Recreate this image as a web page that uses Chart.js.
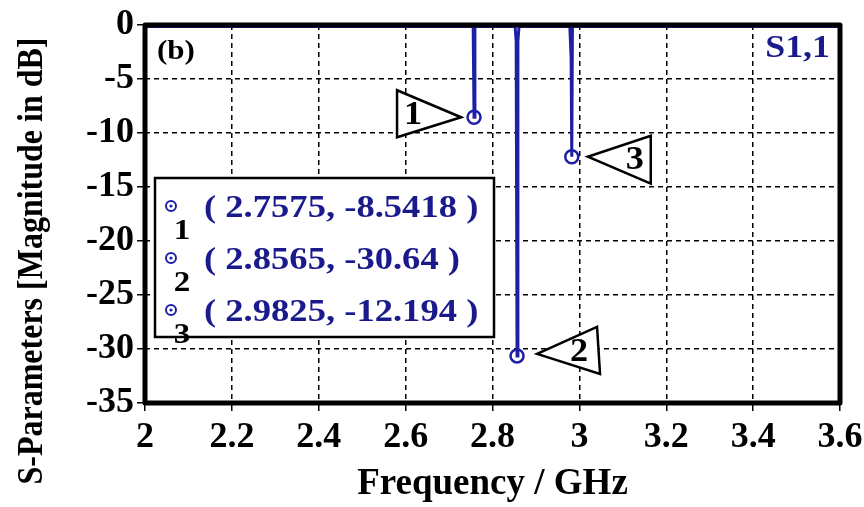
<!DOCTYPE html>
<html>
<head>
<meta charset="utf-8">
<script src="https://cdn.jsdelivr.net/npm/chart.js@4.4.0/dist/chart.umd.min.js"></script>
<style>
  html, body { margin: 0; padding: 0; background: #fff; }
  #wrap { width: 864px; height: 507px; }
</style>
</head>
<body>
<div id="wrap"><canvas id="chart" width="864" height="507"></canvas></div>
<script>
// S1,1 trace (GHz, dB) - flat near 0 dB with three narrow resonances
const freqGHz = [2, 2.7555, 2.7575, 2.7595, 2.852, 2.8545, 2.8565, 2.8585, 2.861, 2.978, 2.981, 2.9825, 2.984, 3.6];
const s11dB   = [-0.15, -0.15, -8.5418, -0.15, -0.15, -1.5, -30.64, -1.5, -0.15, -0.15, -3, -12.194, -0.15, -0.15];

// markers
const markerFreq = [2.7575, 2.8565, 2.9825];
const markerDb = [-8.5418, -30.64, -12.194];
const markerNames = ['1', '2', '3'];

const xTickValues = [2, 2.2, 2.4, 2.6, 2.8, 3, 3.2, 3.4, 3.6];
const yTickValues = [0, -5, -10, -15, -20, -25, -30, -35];

const SERIF = "'Liberation Serif', 'Times New Roman', serif";
const BLUE = '#1f1fa6';
const NAVY = '#1a1a8c';

function markerPoints() {
    return markerFreq.map((f, i) => ({ x: f, y: markerDb[i] }));
}

// text with a little horizontal stretch, like the original figure
function drawText(ctx, text, x, y, size, color, align, sx) {
    ctx.save();
    ctx.translate(x, y);
    ctx.scale(sx, 1);
    ctx.font = 'bold ' + size + 'px ' + SERIF;
    ctx.fillStyle = color;
    ctx.textAlign = align;
    ctx.textBaseline = 'middle';
    ctx.fillText(text, 0, 0);
    ctx.restore();
}

// extra drawing: frame, titles, marker callouts, marker table
const decorPlugin = {
    id: 'decor',
    afterDatasetsDraw(chart) {
        const ctx = chart.ctx;
        const a = chart.chartArea;
        const xs = chart.scales.x, ys = chart.scales.y;
        ctx.save();

        // frame
        ctx.strokeStyle = '#000';
        ctx.lineWidth = 5;
        ctx.lineJoin = 'round';
        ctx.strokeRect(a.left, a.top, a.right - a.left, a.bottom - a.top);

        // (b) and S1,1
        drawText(ctx, '(b)', a.left + 12, a.top + 27, 27, '#000', 'left', 1.15);
        drawText(ctx, 'S1,1', a.right - 10, a.top + 24, 32, NAVY, 'right', 1.12);

        // y title
        ctx.save();
        ctx.translate(33, 261);
        ctx.rotate(-Math.PI / 2);
        ctx.textAlign = 'center';
        ctx.textBaseline = 'middle';
        ctx.fillStyle = '#000';
        ctx.font = 'bold 32px ' + SERIF;
        ctx.scale(1, 1.1);
        ctx.fillText('S-Parameters [Magnitude in dB]', 0, 0);
        ctx.restore();

        // callout triangles next to each marker
        const tri = [
            { pts: [[-13, 0], [-77, -27], [-77, 20]], num: [-61, -2] },
            { pts: [[20, -2], [80, -29], [83, 18]], num: [62, -3] },
            { pts: [[16, 0], [79, -21], [79, 27]], num: [63, 4] }
        ];
        tri.forEach((t, i) => {
            const mx = xs.getPixelForValue(markerFreq[i]);
            const my = ys.getPixelForValue(markerDb[i]);
            ctx.beginPath();
            ctx.moveTo(mx + t.pts[0][0], my + t.pts[0][1]);
            ctx.lineTo(mx + t.pts[1][0], my + t.pts[1][1]);
            ctx.lineTo(mx + t.pts[2][0], my + t.pts[2][1]);
            ctx.closePath();
            ctx.fillStyle = '#fff';
            ctx.fill();
            ctx.lineWidth = 2.5;
            ctx.lineJoin = 'miter';
            ctx.strokeStyle = '#000';
            ctx.stroke();
            drawText(ctx, markerNames[i], mx + t.num[0], my + t.num[1], 33, '#000', 'center', 1.1);
        });

        // marker value table
        const bx = a.left + 10, by = a.top + 153, bw = 339, bh = 159;
        ctx.fillStyle = '#fff';
        ctx.fillRect(bx, by, bw, bh);
        ctx.lineWidth = 2.5;
        ctx.strokeStyle = '#000';
        ctx.strokeRect(bx, by, bw, bh);
        markerFreq.forEach((f, i) => {
            const rowY = by + 31 + i * 52;
            ctx.beginPath();
            ctx.arc(bx + 16, rowY - 3, 5, 0, Math.PI * 2);
            ctx.lineWidth = 2;
            ctx.strokeStyle = BLUE;
            ctx.stroke();
            ctx.beginPath();
            ctx.arc(bx + 16, rowY - 3, 1.6, 0, Math.PI * 2);
            ctx.fillStyle = BLUE;
            ctx.fill();
            drawText(ctx, markerNames[i], bx + 27, rowY + 22, 30, '#000', 'center', 1.1);
            drawText(ctx, '( ' + f + ', ' + markerDb[i] + ' )', bx + 49, rowY, 31, NAVY, 'left', 1.18);
        });

        ctx.restore();
    }
};

new Chart(document.getElementById('chart'), {
    type: 'scatter',
    data: {
        datasets: [
            {
                label: 'S1,1',
                data: freqGHz.map((f, i) => ({ x: f, y: s11dB[i] })),
                showLine: true,
                borderColor: BLUE,
                borderWidth: 3,
                pointRadius: 0,
                tension: 0
            },
            {
                label: 'markers',
                data: markerPoints(),
                pointRadius: 6.5,
                pointBorderWidth: 2.5,
                pointBorderColor: BLUE,
                pointBackgroundColor: '#fff'
            },
            {
                label: 'marker dots',
                data: markerPoints(),
                pointRadius: 1.8,
                pointBorderWidth: 0,
                pointBackgroundColor: BLUE
            }
        ]
    },
    options: {
        responsive: false,
        animation: false,
        devicePixelRatio: 1,
        layout: { padding: { top: 25, right: 24, left: 0, bottom: 0 } },
        plugins: { legend: { display: false }, tooltip: { enabled: false } },
        scales: {
            x: {
                type: 'linear',
                min: 2,
                max: 3.6,
                afterFit(scale) { scale.height = 104; scale.paddingRight = 0; },
                afterBuildTicks(scale) { scale.ticks = xTickValues.map(v => ({ value: v })); },
                ticks: {
                    color: '#000',
                    font: { family: SERIF, size: 36, weight: 'bold' },
                    padding: 5,
                    maxRotation: 0,
                    callback: v => String(v)
                },
                grid: { color: '#000', lineWidth: 1.5, tickLength: 8, tickColor: '#000', tickWidth: 1.5 },
                border: { display: false, dash: [5, 4] },
                title: {
                    display: true,
                    text: 'Frequency / GHz',
                    color: '#000',
                    font: { family: SERIF, size: 37, weight: 'bold' },
                    padding: { top: 2, bottom: 0 }
                }
            },
            y: {
                type: 'linear',
                min: -35,
                max: 0,
                afterFit(scale) { scale.width = 145; },
                afterBuildTicks(scale) { scale.ticks = yTickValues.map(v => ({ value: v })); },
                ticks: {
                    color: '#000',
                    font: { family: SERIF, size: 36, weight: 'bold' },
                    padding: 3,
                    callback: v => String(v)
                },
                grid: { color: '#000', lineWidth: 1.5, tickLength: 8, tickColor: '#000', tickWidth: 1.5 },
                border: { display: false, dash: [5, 4] }
            }
        }
    },
    plugins: [decorPlugin]
});
</script>
</body>
</html>
